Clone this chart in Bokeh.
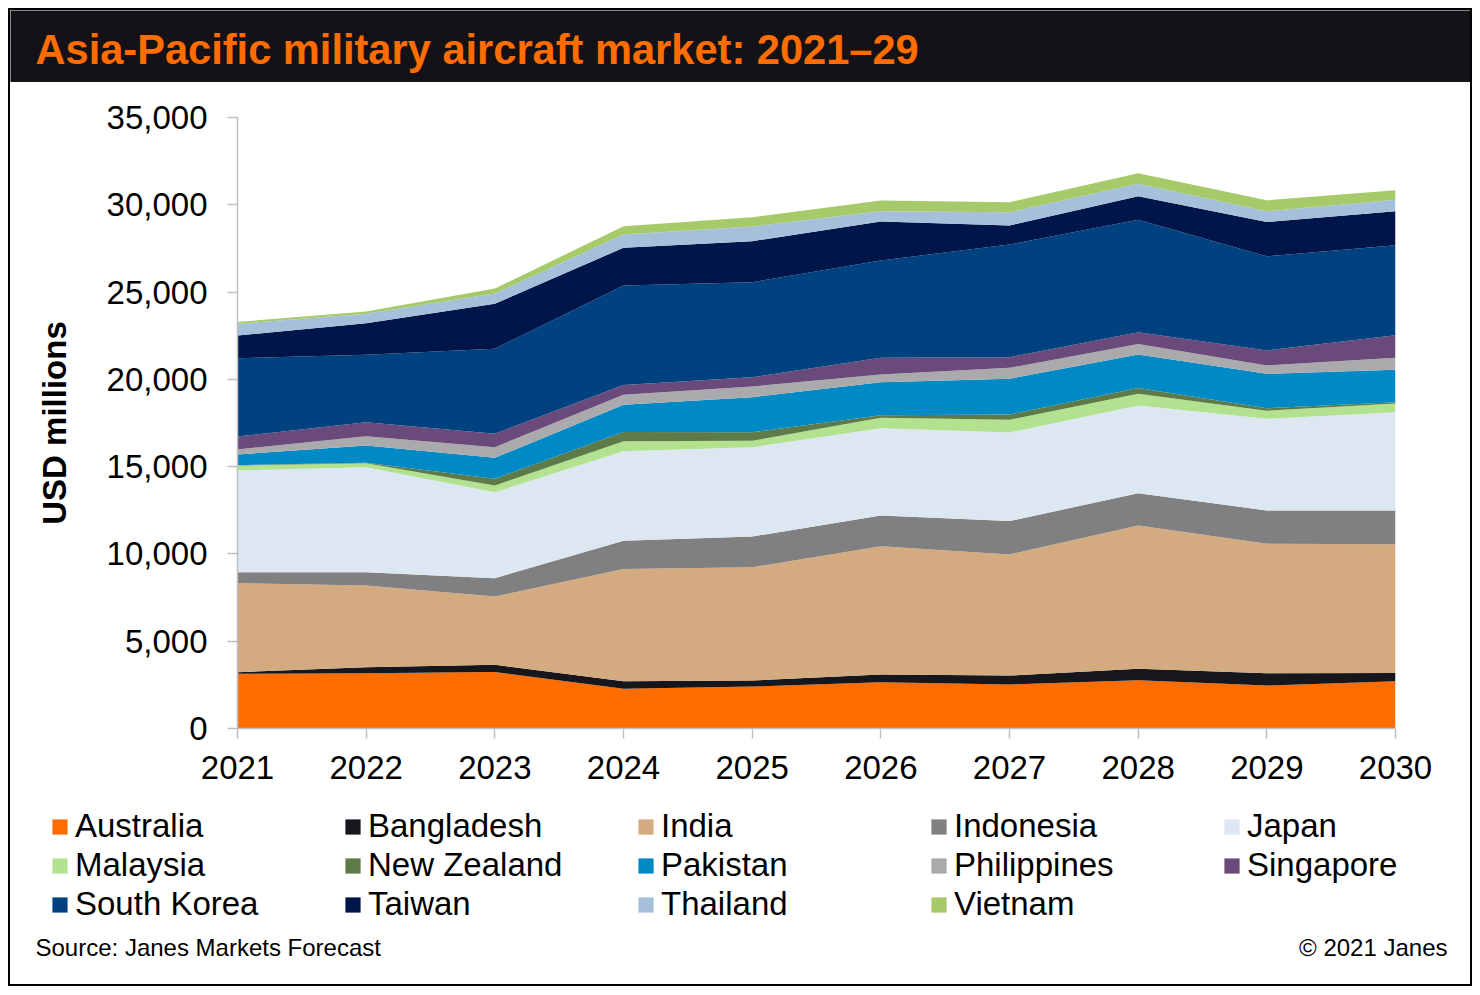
import math
from bokeh.plotting import figure
from bokeh.layouts import column
from bokeh.models import (ColumnDataSource, Range1d, FixedTicker, NumeralTickFormatter, Label,
                          Legend, LegendItem)
from bokeh.embed import file_html
from bokeh.resources import INLINE

# ---------------- data (USD millions) ----------------
years = [2021, 2022, 2023, 2024, 2025, 2026, 2027, 2028, 2029, 2030]
countries = ["Australia", "Bangladesh", "India", "Indonesia", "Japan", "Malaysia",
             "New Zealand", "Pakistan", "Philippines", "Singapore", "South Korea",
             "Taiwan", "Thailand", "Vietnam"]
australia   = [3130, 3170, 3230, 2270, 2400, 2650, 2520, 2770, 2460, 2710]
bangladesh  = [95, 340, 420, 440, 345, 440, 510, 650, 700, 470]
india       = [5100, 4680, 3910, 6420, 6490, 7350, 6940, 8210, 7430, 7380]
indonesia   = [630, 765, 1050, 1620, 1760, 1760, 1910, 1850, 1900, 1930]
japan       = [5825, 6015, 4925, 5130, 5120, 5000, 5070, 5020, 5250, 5630]
malaysia    = [285, 230, 385, 570, 365, 600, 740, 670, 460, 500]
new_zealand = [20, 30, 380, 540, 485, 150, 290, 340, 150, 70]
pakistan    = [610, 980, 1205, 1560, 2015, 1890, 2050, 1910, 1970, 1860]
philippines = [285, 535, 610, 570, 610, 440, 630, 610, 480, 690]
singapore   = [745, 800, 765, 560, 535, 955, 610, 670, 860, 1280]
south_korea = [4485, 3860, 4870, 5700, 5440, 5575, 6450, 6440, 5385, 5155]
taiwan      = [1300, 1815, 2575, 2160, 2350, 2235, 1090, 1355, 1965, 1950]
thailand    = [670, 535, 595, 765, 840, 590, 765, 705, 615, 670]
vietnam     = [110, 130, 285, 460, 535, 610, 575, 610, 630, 535]
y_ticks = [0, 5000, 10000, 15000, 20000, 25000, 30000, 35000]

colors = ["#FF6C00", "#16161D", "#D4AA80", "#808080", "#DCE7F2", "#B2E18F",
          "#5E7A48", "#008AC5", "#AAAAAD", "#6A4A7B", "#00427F", "#00154A",
          "#A5C0DB", "#A6C96A"]

series = [australia, bangladesh, india, indonesia, japan, malaysia, new_zealand,
          pakistan, philippines, singapore, south_korea, taiwan, thailand, vietnam]
data = {"year": years}
for name, vals in zip(countries, series):
    data[name] = vals
source = ColumnDataSource(data)

FONT = "Liberation Sans"
W = 1460

# ---------------- title bar ----------------
top = figure(width=W, height=72, x_range=Range1d(0, 1), y_range=Range1d(0, 1),
             x_axis_type=None, y_axis_type=None, output_backend="svg",
             toolbar_location=None, min_border=0, frame_align=False)
top.outline_line_color = None
top.xgrid.visible = False
top.ygrid.visible = False
top.background_fill_color = "#141216"
top.border_fill_color = "#141216"
top.add_layout(Label(x=25, y=33, x_units="screen", y_units="screen",
                     text="Asia-Pacific military aircraft market: 2021\u201329",
                     text_font=FONT, text_font_size="41.6px", text_font_style="bold",
                     text_color="#FF6C00", text_baseline="alphabetic", text_align="left"))

# ---------------- main chart ----------------
p = figure(width=W, height=716, x_range=Range1d(2021, 2030), y_range=Range1d(0, 35000),
           output_backend="svg", toolbar_location=None, frame_align=False,
           min_border_left=227, min_border_right=75, min_border_top=35, min_border_bottom=70)
p.outline_line_color = None
p.background_fill_color = "white"
p.border_fill_color = "white"

areas = p.varea_stack(stackers=countries, x="year", color=colors, source=source)

p.xgrid.grid_line_color = None
p.ygrid.ticker = FixedTicker(ticks=[35000])
p.ygrid.grid_line_color = "#BFBFBF"
p.ygrid.grid_line_width = 1.5

for ax in (p.xaxis[0], p.yaxis[0]):
    ax.axis_line_color = "#BFBFBF"
    ax.axis_line_width = 1.5
    ax.major_tick_line_color = "#BFBFBF"
    ax.major_tick_line_width = 1.5
    ax.major_tick_in = 0
    ax.major_tick_out = 10
    ax.minor_tick_line_color = None
    ax.major_label_text_font = FONT
    ax.major_label_text_font_size = "33px"
    ax.major_label_text_color = "black"

p.yaxis.ticker = FixedTicker(ticks=y_ticks)
p.yaxis.formatter = NumeralTickFormatter(format="0,0")
p.yaxis.major_label_standoff = 20
p.yaxis.axis_label = "USD millions"
p.yaxis.axis_label_text_font = FONT
p.yaxis.axis_label_text_font_size = "33px"
p.yaxis.axis_label_text_font_style = "bold"
p.yaxis.axis_label_text_color = "black"
p.yaxis.axis_label_standoff = 31
p.xaxis.ticker = FixedTicker(ticks=years)
p.xaxis.major_label_standoff = 17

# ---------------- legend + footer ----------------
bot = figure(width=W, height=186, x_range=Range1d(0, 1), y_range=Range1d(0, 1),
             x_axis_type=None, y_axis_type=None, output_backend="svg",
             toolbar_location=None, min_border=0, frame_align=False)
bot.outline_line_color = None
bot.xgrid.visible = False
bot.ygrid.visible = False
bot.background_fill_color = "white"
bot.border_fill_color = "white"

# legend keys (same series, outside this panel's view; only their swatches are shown)
keys = bot.varea_stack(stackers=countries, x="year", color=colors, source=source)
legend = Legend(items=[LegendItem(label=c, renderers=[r]) for c, r in zip(countries, keys)],
                location=(40, 61), orientation="horizontal", ncols=5,
                glyph_width=19, glyph_height=19, label_standoff=6, label_width=267,
                spacing=1, padding=0, margin=0, border_line_color=None,
                background_fill_alpha=0, label_text_font=FONT,
                label_text_font_size="33px", label_text_color="black")
bot.add_layout(legend)

bot.add_layout(Label(x=25, y=37, x_units="screen", y_units="screen",
                     text="Source: Janes Markets Forecast",
                     text_font=FONT, text_font_size="24px", text_color="black",
                     text_baseline="alphabetic", text_align="left"))
bot.add_layout(Label(x=1437, y=37, x_units="screen", y_units="screen",
                     text="\u00a9 2021 Janes",
                     text_font=FONT, text_font_size="24px", text_color="black",
                     text_baseline="alphabetic", text_align="right"))

layout = column(top, p, bot, spacing=0, margin=(8, 8, 8, 8),
                styles={"border": "2px solid black", "background-color": "white"})

open("out.html", "w").write(file_html(layout, INLINE))
